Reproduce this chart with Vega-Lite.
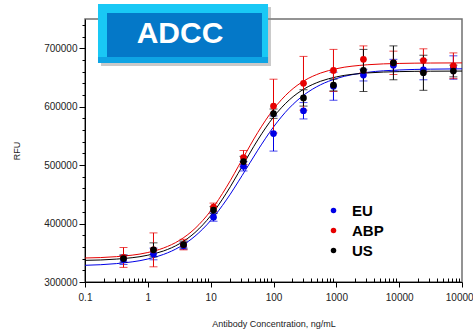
{
  "$schema": "https://vega.github.io/schema/vega-lite/v6.json",
  "autosize": "none",
  "width": 377,
  "height": 263,
  "padding": {"left": 85, "top": 19, "right": 11, "bottom": 49},
  "background": "white",
  "config": {
    "view": {"stroke": "#707070", "strokeWidth": 1.5},
    "font": "Liberation Sans",
    "axis": {"grid": false, "domainColor": "#000", "tickColor": "#000", "labelColor": "#222", "titleColor": "#222", "labelFont": "Liberation Sans", "titleFont": "Liberation Sans", "titleFontWeight": "normal"}
  },
  "datasets": {
    "points": [
      {"conc": 0.41, "rfu": 338000, "err": 8000, "series": "EU"},
      {"conc": 1.23, "rfu": 348000, "err": 10000, "series": "EU"},
      {"conc": 3.7, "rfu": 362000, "err": 6000, "series": "EU"},
      {"conc": 11.1, "rfu": 411000, "err": 7000, "series": "EU"},
      {"conc": 33.3, "rfu": 498000, "err": 8000, "series": "EU"},
      {"conc": 100, "rfu": 554000, "err": 30000, "series": "EU"},
      {"conc": 300, "rfu": 593000, "err": 14000, "series": "EU"},
      {"conc": 900, "rfu": 635000, "err": 24000, "series": "EU"},
      {"conc": 2700, "rfu": 654000, "err": 10000, "series": "EU"},
      {"conc": 8100, "rfu": 671000, "err": 10000, "series": "EU"},
      {"conc": 24300, "rfu": 663000, "err": 17000, "series": "EU"},
      {"conc": 72900, "rfu": 667000, "err": 20000, "series": "EU"},
      {"conc": 0.41, "rfu": 342000, "err": 17000, "series": "ABP"},
      {"conc": 1.23, "rfu": 355000, "err": 29000, "series": "ABP"},
      {"conc": 3.7, "rfu": 364000, "err": 9000, "series": "ABP"},
      {"conc": 11.1, "rfu": 428000, "err": 7000, "series": "ABP"},
      {"conc": 33.3, "rfu": 513000, "err": 12000, "series": "ABP"},
      {"conc": 100, "rfu": 601000, "err": 46000, "series": "ABP"},
      {"conc": 300, "rfu": 640000, "err": 46000, "series": "ABP"},
      {"conc": 900, "rfu": 662000, "err": 36000, "series": "ABP"},
      {"conc": 2700, "rfu": 681000, "err": 23000, "series": "ABP"},
      {"conc": 8100, "rfu": 675000, "err": 20000, "series": "ABP"},
      {"conc": 24300, "rfu": 679000, "err": 20000, "series": "ABP"},
      {"conc": 72900, "rfu": 670000, "err": 22000, "series": "ABP"},
      {"conc": 0.41, "rfu": 340000, "err": 6000, "series": "US"},
      {"conc": 1.23, "rfu": 355000, "err": 12000, "series": "US"},
      {"conc": 3.7, "rfu": 364000, "err": 6000, "series": "US"},
      {"conc": 11.1, "rfu": 423000, "err": 6000, "series": "US"},
      {"conc": 33.3, "rfu": 506000, "err": 9000, "series": "US"},
      {"conc": 100, "rfu": 588000, "err": 8000, "series": "US"},
      {"conc": 300, "rfu": 615000, "err": 14000, "series": "US"},
      {"conc": 900, "rfu": 637000, "err": 10000, "series": "US"},
      {"conc": 2700, "rfu": 662000, "err": 36000, "series": "US"},
      {"conc": 8100, "rfu": 675000, "err": 29000, "series": "US"},
      {"conc": 24300, "rfu": 658000, "err": 30000, "series": "US"},
      {"conc": 72900, "rfu": 661000, "err": 10000, "series": "US"}
    ],
    "curves": [
      {"conc": 0.1, "rfu": 328598, "series": "EU"},
      {"conc": 0.3162, "rfu": 331483, "series": "EU"},
      {"conc": 1, "rfu": 339336, "series": "EU"},
      {"conc": 1.778, "rfu": 347191, "series": "EU"},
      {"conc": 3.162, "rfu": 359594, "series": "EU"},
      {"conc": 5.623, "rfu": 378344, "series": "EU"},
      {"conc": 10, "rfu": 405150, "series": "EU"},
      {"conc": 17.78, "rfu": 440385, "series": "EU"},
      {"conc": 31.62, "rfu": 482046, "series": "EU"},
      {"conc": 56.23, "rfu": 525508, "series": "EU"},
      {"conc": 100, "rfu": 565263, "series": "EU"},
      {"conc": 177.8, "rfu": 597530, "series": "EU"},
      {"conc": 316.2, "rfu": 621272, "series": "EU"},
      {"conc": 562.3, "rfu": 637520, "series": "EU"},
      {"conc": 1000, "rfu": 648079, "series": "EU"},
      {"conc": 3162, "rfu": 658796, "series": "EU"},
      {"conc": 10000, "rfu": 662774, "series": "EU"},
      {"conc": 31623, "rfu": 664208, "series": "EU"},
      {"conc": 100000, "rfu": 664718, "series": "EU"},
      {"conc": 0.1, "rfu": 341077, "series": "ABP"},
      {"conc": 0.3162, "rfu": 343384, "series": "ABP"},
      {"conc": 1, "rfu": 350469, "series": "ABP"},
      {"conc": 1.778, "rfu": 358167, "series": "ABP"},
      {"conc": 3.162, "rfu": 371019, "series": "ABP"},
      {"conc": 5.623, "rfu": 391435, "series": "ABP"},
      {"conc": 10, "rfu": 421707, "series": "ABP"},
      {"conc": 17.78, "rfu": 462085, "series": "ABP"},
      {"conc": 31.62, "rfu": 509192, "series": "ABP"},
      {"conc": 56.23, "rfu": 555928, "series": "ABP"},
      {"conc": 100, "rfu": 595725, "series": "ABP"},
      {"conc": 177.8, "rfu": 625247, "series": "ABP"},
      {"conc": 316.2, "rfu": 645100, "series": "ABP"},
      {"conc": 562.3, "rfu": 657500, "series": "ABP"},
      {"conc": 1000, "rfu": 664928, "series": "ABP"},
      {"conc": 3162, "rfu": 671749, "series": "ABP"},
      {"conc": 10000, "rfu": 673965, "series": "ABP"},
      {"conc": 31623, "rfu": 674672, "series": "ABP"},
      {"conc": 100000, "rfu": 674896, "series": "ABP"},
      {"conc": 0.1, "rfu": 337012, "series": "US"},
      {"conc": 0.3162, "rfu": 339180, "series": "US"},
      {"conc": 1, "rfu": 345848, "series": "US"},
      {"conc": 1.778, "rfu": 353105, "series": "US"},
      {"conc": 3.162, "rfu": 365227, "series": "US"},
      {"conc": 5.623, "rfu": 384573, "series": "US"},
      {"conc": 10, "rfu": 413381, "series": "US"},
      {"conc": 17.78, "rfu": 452071, "series": "US"},
      {"conc": 31.62, "rfu": 497531, "series": "US"},
      {"conc": 56.23, "rfu": 543152, "series": "US"},
      {"conc": 100, "rfu": 582212, "series": "US"},
      {"conc": 177.8, "rfu": 611424, "series": "US"},
      {"conc": 316.2, "rfu": 631132, "series": "US"},
      {"conc": 562.3, "rfu": 643500, "series": "US"},
      {"conc": 1000, "rfu": 650922, "series": "US"},
      {"conc": 3162, "rfu": 657750, "series": "US"},
      {"conc": 10000, "rfu": 659963, "series": "US"},
      {"conc": 31623, "rfu": 660672, "series": "US"},
      {"conc": 100000, "rfu": 660896, "series": "US"}
    ]
  },
  "resolve": {"axis": {"x": "independent", "y": "independent"}, "legend": {"color": "independent"}},
  "layer": [
    {
      "data": {"name": "curves"},
      "mark": {"type": "line", "strokeWidth": 1, "interpolate": "monotone"},
      "encoding": {
        "x": {"field": "conc", "type": "quantitative", "scale": {"type": "log", "domain": [0.1, 100000], "nice": false},
          "axis": {"orient": "bottom", "values": [0.2,0.3,0.4,0.5,0.6,0.7,0.8,0.9,2,3,4,5,6,7,8,9,20,30,40,50,60,70,80,90,200,300,400,500,600,700,800,900,2000,3000,4000,5000,6000,7000,8000,9000,20000,30000,40000,50000,60000,70000,80000,90000], "labels": false, "domain": false, "tickSize": -4, "title": null}},
        "y": {"field": "rfu", "type": "quantitative", "scale": {"domain": [300000, 750000], "zero": false, "nice": false},
          "axis": {"orient": "left", "values": [320000,340000,360000,380000,420000,440000,460000,480000,520000,540000,560000,580000,620000,640000,660000,680000,720000,740000], "labels": false, "domain": false, "tickSize": 3, "title": null}},
        "color": {"field": "series", "type": "nominal", "scale": {"domain": ["EU", "ABP", "US"], "range": ["#0000E6", "#E60000", "#000000"]}, "legend": null},
        "detail": {"field": "series"}
      }
    },
    {
      "data": {"name": "points"},
      "mark": {"type": "errorbar", "ticks": {"size": 8}},
      "encoding": {
        "x": {"field": "conc", "type": "quantitative", "scale": {"type": "log", "domain": [0.1, 100000], "nice": false}, "axis": null},
        "y": {"field": "rfu", "type": "quantitative", "scale": {"domain": [300000, 750000], "zero": false, "nice": false}, "axis": null},
        "yError": {"field": "err"},
        "color": {"field": "series", "type": "nominal", "scale": {"domain": ["EU", "ABP", "US"], "range": ["#0000E6", "#E60000", "#000000"]}, "legend": null}
      }
    },
    {
      "data": {"name": "points"},
      "mark": {"type": "point", "filled": true, "size": 45, "opacity": 1},
      "encoding": {
        "x": {"field": "conc", "type": "quantitative", "scale": {"type": "log", "domain": [0.1, 100000], "nice": false},
          "axis": {"orient": "bottom", "values": [0.1, 1, 10, 100, 1000, 10000, 100000], "format": "~f", "labelFlush": false, "labelOverlap": false, "tickSize": 5, "labelPadding": 5, "labelFontSize": 10, "title": "Antibody Concentration, ng/mL", "titleFontSize": 9, "titlePadding": 17}},
        "y": {"field": "rfu", "type": "quantitative", "scale": {"domain": [300000, 750000], "zero": false, "nice": false},
          "axis": {"orient": "left", "values": [300000, 400000, 500000, 600000, 700000], "format": "d", "tickSize": 6, "labelPadding": 2, "labelFontSize": 10, "title": "RFU", "titleFontSize": 9, "titlePadding": 22}},
        "color": {"field": "series", "type": "nominal", "scale": {"domain": ["EU", "ABP", "US"], "range": ["#0000E6", "#E60000", "#000000"]},
          "legend": {"orient": "none", "legendX": 241, "legendY": 184, "title": null, "padding": 0, "symbolType": "circle", "symbolSize": 30, "symbolStrokeWidth": 0, "labelFontSize": 15, "labelFontWeight": "bold", "labelColor": "#000", "labelFont": "Liberation Sans", "labelOffset": 11, "rowPadding": 4}}
      }
    },
    {
      "data": {"values": [{}]},
      "mark": {"type": "rect", "color": "#888", "opacity": 0.45},
      "encoding": {
        "x": {"datum": 0.18, "type": "quantitative", "scale": {"type": "log", "domain": [0.1, 100000], "nice": false}, "axis": null},
        "x2": {"datum": 91.2},
        "y": {"datum": 770532, "type": "quantitative", "scale": {"domain": [300000, 750000], "zero": false, "nice": false}, "axis": null},
        "y2": {"datum": 669582}
      }
    },
    {
      "data": {"values": [{}]},
      "mark": {"type": "rect", "color": "#19C8F5"},
      "encoding": {
        "x": {"datum": 0.161, "type": "quantitative", "scale": {"type": "log", "domain": [0.1, 100000], "nice": false}, "axis": null},
        "x2": {"datum": 81.8},
        "y": {"datum": 775665, "type": "quantitative", "scale": {"domain": [300000, 750000], "zero": false, "nice": false}, "axis": null},
        "y2": {"datum": 674715}
      }
    },
    {
      "data": {"values": [{}]},
      "mark": {"type": "rect", "color": "#0EA4E4"},
      "encoding": {
        "x": {"datum": 0.161, "type": "quantitative", "scale": {"type": "log", "domain": [0.1, 100000], "nice": false}, "axis": null},
        "x2": {"datum": 81.8},
        "y": {"datum": 684981, "type": "quantitative", "scale": {"domain": [300000, 750000], "zero": false, "nice": false}, "axis": null},
        "y2": {"datum": 674715}
      }
    },
    {
      "data": {"values": [{}]},
      "mark": {"type": "rect", "color": "#0478C8"},
      "encoding": {
        "x": {"datum": 0.224, "type": "quantitative", "scale": {"type": "log", "domain": [0.1, 100000], "nice": false}, "axis": null},
        "x2": {"datum": 65.6},
        "y": {"datum": 760266, "type": "quantitative", "scale": {"domain": [300000, 750000], "zero": false, "nice": false}, "axis": null},
        "y2": {"datum": 684981}
      }
    },
    {
      "data": {"values": [{}]},
      "mark": {"type": "text", "text": "ADCC", "color": "white", "font": "Liberation Sans", "fontWeight": "bold", "fontSize": 30, "align": "center", "baseline": "middle"},
      "encoding": {
        "x": {"datum": 3.25, "type": "quantitative", "scale": {"type": "log", "domain": [0.1, 100000], "nice": false}, "axis": null},
        "y": {"datum": 724000, "type": "quantitative", "scale": {"domain": [300000, 750000], "zero": false, "nice": false}, "axis": null}
      }
    }
  ]
}
